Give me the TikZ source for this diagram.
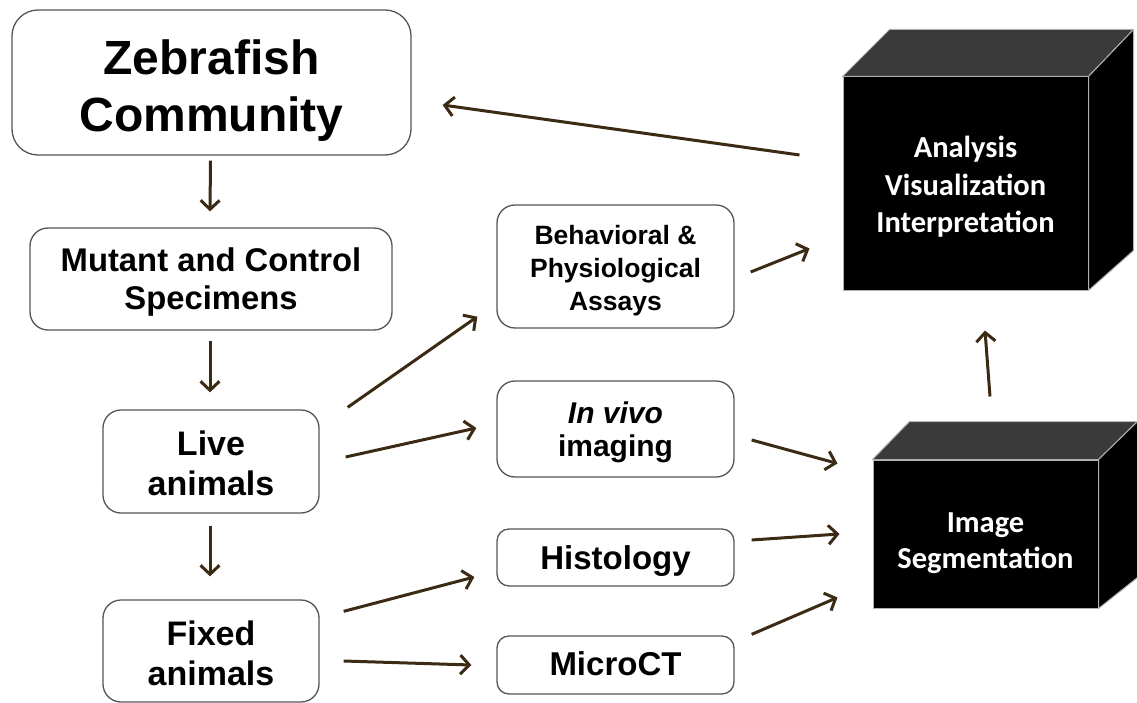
\documentclass[tikz,border=0pt]{standalone}
\usepackage{fontspec}
\setmainfont{Liberation Sans}
\newfontfamily\cubefont{Carlito}
\usetikzlibrary{arrows.meta}
\definecolor{arrowbrown}{HTML}{3B2A14}
\definecolor{boxedge}{HTML}{555555}
\definecolor{cubetop}{HTML}{3A3A3A}
\definecolor{cubeedge}{HTML}{B0B0B0}
% centred lines of text, drawn #1 lower than their box
\newcommand{\stacktext}[2]{\raisebox{-#1}[\height][\depth]{\begin{tabular}{@{}c@{}}#2\end{tabular}}}
\tikzset{
  stagebox/.style={draw=boxedge, line width=1.3pt, rounded corners=18pt, fill=white,
    inner sep=0pt, font=\bfseries},
  cubefront/.style={draw=cubeedge, line width=1pt, fill=black, text=white,
    inner sep=0pt},
  cubeface/.style={draw=cubeedge, line width=1pt, line join=round},
  flow/.style={draw=arrowbrown, line width=3pt,
    -{Straight Barb[length=9pt,width=19pt,line width=3pt]}}
}
\begin{document}
\begin{tikzpicture}[x=1pt,y=-1pt]
\useasboundingbox (0,0) rectangle (1137,703);

% left column
\node[stagebox, rounded corners=26pt, minimum width=399pt, minimum height=145pt,
  font=\bfseries\fontsize{48}{57}\selectfont] (zf) at (211.5,82.5)
  {\stacktext{9.6pt}{Zebrafish\\Community}};
\node[stagebox, minimum width=362pt, minimum height=102pt,
  font=\bfseries\fontsize{32.8}{38}\selectfont] (mut) at (211,279)
  {\stacktext{4.4pt}{Mutant and Control\\Specimens}};
\node[stagebox, minimum width=216pt, minimum height=103pt,
  font=\bfseries\fontsize{34}{40}\selectfont] (live) at (211,461.5)
  {\stacktext{5.5pt}{Live\\animals}};
\node[stagebox, minimum width=216pt, minimum height=102pt,
  font=\bfseries\fontsize{34}{40}\selectfont] (fixed) at (211,651)
  {\stacktext{6pt}{Fixed\\animals}};

% middle column
\node[stagebox, minimum width=237pt, minimum height=123pt,
  font=\bfseries\fontsize{26.5}{32.5}\selectfont] (behav) at (615.5,266.5)
  {\stacktext{4.5pt}{Behavioral \&\\Physiological\\Assays}};
\node[stagebox, minimum width=237pt, minimum height=96pt,
  font=\bfseries\fontsize{30}{33}\selectfont] (vivo) at (615.5,429)
  {\stacktext{4pt}{\textit{In vivo}\\imaging}};
\node[stagebox, rounded corners=12pt, minimum width=237pt, minimum height=57pt,
  font=\bfseries\fontsize{33}{37}\selectfont] (hist) at (615.5,557.5)
  {\stacktext{5pt}{Histology}};
\node[stagebox, rounded corners=12pt, minimum width=237pt, minimum height=58pt,
  font=\bfseries\fontsize{33}{37}\selectfont] (micro) at (615.5,665)
  {\stacktext{2.6pt}{MicroCT}};

% cubes
\node[cubefront, minimum width=245pt, minimum height=213pt,
  font=\cubefont\bfseries\fontsize{30.5}{37.5}\selectfont] (ana) at (965.5,183.5)
  {\stacktext{4.5pt}{Analysis\\Visualization\\Interpretation}};
\filldraw[cubeface, fill=cubetop] (ana.north west) -- ++(47,-47) -- ([shift={(45,-47)}]ana.north east) -- (ana.north east) -- cycle;
\filldraw[cubeface, fill=black] (ana.north east) -- ++(45,-47) -- ([shift={(45,-40)}]ana.south east) -- (ana.south east) -- cycle;

\node[cubefront, minimum width=225pt, minimum height=148pt,
  font=\cubefont\bfseries\fontsize{30.5}{36}\selectfont] (seg) at (985.5,534)
  {\stacktext{8.8pt}{Image\\Segmentation}};
\filldraw[cubeface, fill=cubetop] (seg.north west) -- ++(37,-38) -- ([shift={(39,-38)}]seg.north east) -- (seg.north east) -- cycle;
\filldraw[cubeface, fill=black] (seg.north east) -- ++(39,-38) -- ([shift={(39,-31)}]seg.south east) -- (seg.south east) -- cycle;

% connectors
\draw[flow] ([shift={(-1,5)}]zf.south) -- ([shift={(-1,-16)}]mut.north);
\draw[flow] ([shift={(-1,10)}]mut.south) -- ([shift={(-1,-17)}]live.north);
\draw[flow] ([shift={(-1,12)}]live.south) -- ([shift={(-1,-23)}]fixed.north);

\draw[flow] ([shift={(28,-2)}]live.north east) -- ([shift={(-19,-12)}]behav.south west);
\draw[flow] ([shift={(26,-4.5)}]live.east) -- ([shift={(-20,-1)}]vivo.west);
\draw[flow] ([shift={(24,12)}]fixed.north east) -- ([shift={(-22,19.5)}]hist.west);
\draw[flow] ([shift={(24,10)}]fixed.east) -- ([shift={(-25,0)}]micro.west);

\draw[flow] ([shift={(16,5.5)}]behav.east) -- ([shift={(-33,-42)}]ana.south west);
\draw[flow] ([shift={(17,11)}]vivo.east) -- ([shift={(-35,4)}]seg.north west);
\draw[flow] ([shift={(17,-17.5)}]hist.east) -- ([shift={(-33,0)}]seg.west);
\draw[flow] ([shift={(17,-1)}]micro.north east) -- ([shift={(-35,-11)}]seg.south west);

\draw[flow] ([shift={(4.5,-63)}]seg.north) -- ([shift={(19.5,40)}]ana.south);
\draw[flow] ([shift={(-43,-28.5)}]ana.west) -- ([shift={(31,22.5)}]zf.east);
\end{tikzpicture}
\end{document}
